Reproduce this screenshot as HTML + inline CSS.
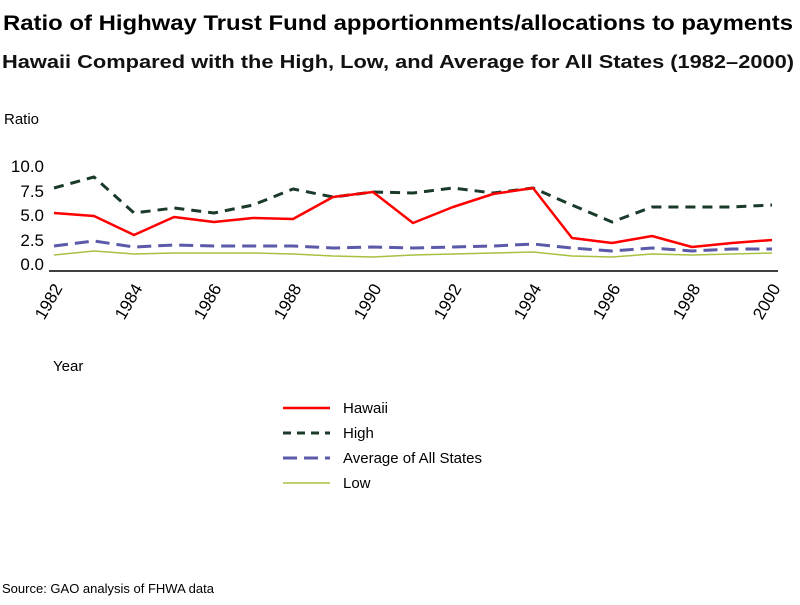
<!DOCTYPE html>
<html><head><style>
body{margin:0;background:#fff;}
svg{font-family:"Liberation Sans",sans-serif;}
</style></head><body>
<svg width="800" height="600" xmlns="http://www.w3.org/2000/svg">
<text x="398" y="30" text-anchor="middle" font-size="21" font-weight="bold" textLength="790" lengthAdjust="spacingAndGlyphs">Ratio of Highway Trust Fund apportionments/allocations to payments</text>
<text x="398" y="68" text-anchor="middle" font-size="18" textLength="792" lengthAdjust="spacingAndGlyphs" font-weight="600" fill="#111">Hawaii Compared with the High, Low, and Average for All States (1982–2000)</text>
<text x="4" y="124" font-size="15">Ratio</text>
<g font-size="17" text-anchor="end">
<text x="44" y="172">10.0</text><text x="44" y="197">7.5</text><text x="44" y="221">5.0</text><text x="44" y="246">2.5</text><text x="44" y="270">0.0</text>
</g>
<line x1="49" y1="271" x2="778" y2="271" stroke="#000" stroke-width="1.5"/>
<g font-size="17" text-anchor="end">
<text transform="translate(63,288) rotate(-60)">1982</text>
<text transform="translate(143,288) rotate(-60)">1984</text>
<text transform="translate(222,288) rotate(-60)">1986</text>
<text transform="translate(302,288) rotate(-60)">1988</text>
<text transform="translate(382,288) rotate(-60)">1990</text>
<text transform="translate(462,288) rotate(-60)">1992</text>
<text transform="translate(542,288) rotate(-60)">1994</text>
<text transform="translate(621,288) rotate(-60)">1996</text>
<text transform="translate(701,288) rotate(-60)">1998</text>
<text transform="translate(781,288) rotate(-60)">2000</text>
</g>
<text x="53" y="371" font-size="15">Year</text>
<g fill="none" stroke-linejoin="round">
<polyline stroke="#a8c040" stroke-width="1.5" points="54,255 94,251 134,254 174,253 214,253 253,253 293,254 333,256 373,257 413,255 453,254 493,253 533,252 572,256 612,257 652,254 692,255 732,254 772,253"/>
<polyline stroke="#5a5aa8" stroke-width="3" stroke-dasharray="14,7" points="54,246 94,241 134,247 174,245 214,246 253,246 293,246 333,248 373,247 413,248 453,247 493,246 533,244 572,248 612,251 652,248 692,251 732,249 772,249"/>
<polyline stroke="#1a3a2a" stroke-width="3" stroke-dasharray="10,7" points="54,188 94,177 134,213 174,208 214,213 253,205 293,189 333,197 373,192 413,193 453,188 493,193 533,188 572,205 612,222 652,207 692,207 732,207 772,205"/>
<polyline stroke="#ff0000" stroke-width="2.5" points="54,213 94,216 134,235 174,217 214,222 253,218 293,219 333,197 373,192 413,223 453,207 493,194 533,188 572,238 612,243 652,236 692,247 732,243 772,240"/>
</g>
<g font-size="15">
<line x1="283" y1="408" x2="330" y2="408" stroke="#f00" stroke-width="2.5"/><text x="343" y="413">Hawaii</text>
<line x1="283" y1="433" x2="330" y2="433" stroke="#1a3a2a" stroke-width="3" stroke-dasharray="8,6"/><text x="343" y="438">High</text>
<line x1="283" y1="458" x2="330" y2="458" stroke="#5a5aa8" stroke-width="3" stroke-dasharray="14,7"/><text x="343" y="463">Average of All States</text>
<line x1="283" y1="483" x2="330" y2="483" stroke="#a8c040" stroke-width="1.5"/><text x="343" y="488">Low</text>
</g>
<text x="2" y="593" font-size="13">Source: GAO analysis of FHWA data</text>
</svg>
</body></html>
